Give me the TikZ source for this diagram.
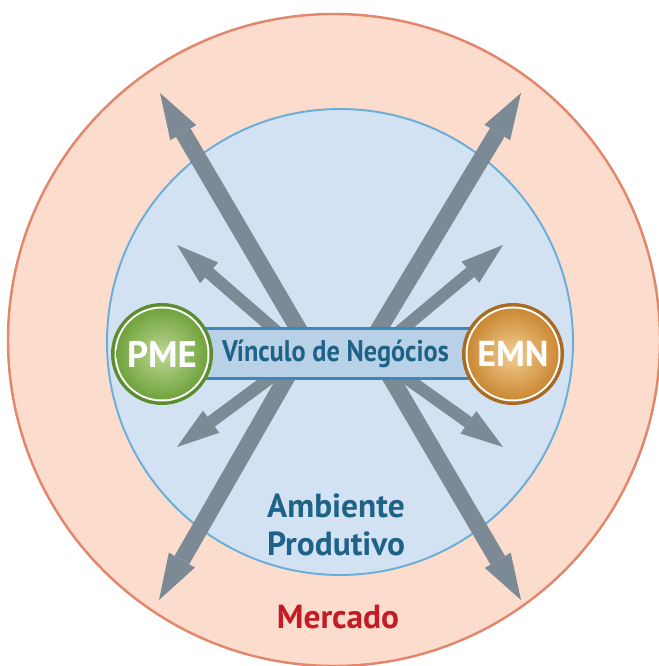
\documentclass[tikz,border=0pt]{standalone}
\usepackage{fontspec}
\setmainfont{PT Sans}
\newfontfamily\estreita[FakeStretch=0.88]{PT Sans}
\usepackage{xcolor}
\usetikzlibrary{arrows.meta,positioning,calc}

\definecolor{mercadofill}{HTML}{FCDCCD}
\definecolor{mercadoline}{HTML}{E0876D}
\definecolor{ambfill}{HTML}{D3E2F2}
\definecolor{ambline}{HTML}{6AAED8}
\definecolor{seta}{HTML}{7B8A94}
\definecolor{barfill}{HTML}{B9D1E7}
\definecolor{barline}{HTML}{3A87B9}
\definecolor{azultexto}{HTML}{1E6387}
\definecolor{vermelho}{HTML}{C21D26}
\definecolor{verdeescuro}{HTML}{5B8D2F}
\definecolor{verdeclaro}{HTML}{BCD793}
\definecolor{verdemeio}{HTML}{71A33D}
\definecolor{laranjaescuro}{HTML}{A86B20}
\definecolor{laranjaclaro}{HTML}{F2CD92}
\definecolor{laranjameio}{HTML}{CB8934}

\tikzset{
  setalonga/.style={seta, line width=9.6pt, -{Triangle[length=0.92cm, width=0.6cm, line width=0pt]}},
  setacurta/.style={seta, line width=7pt, -{Triangle[length=0.85cm, width=0.55cm, line width=0pt]}},
  rotulo/.style={font=\bfseries, text=azultexto}
}

\begin{document}
\begin{tikzpicture}

\useasboundingbox (0,0) rectangle (13.16,13.32);

% Mercado
\fill[mercadofill] (6.68,6.52) circle (6.52);
\draw[mercadoline, line width=1.4pt] (6.68,6.52) circle (6.52);

% Ambiente produtivo
\fill[ambfill] (6.8,6.48) circle (4.66);
\draw[ambline, line width=1.1pt] (6.8,6.48) circle (4.66);

% Arrow ends
\coordinate (ul) at (6.26,6.24);
\coordinate (ur) at (7.28,6.24);
\coordinate (ll) at (6.0,6.24);
\coordinate (lr) at (7.54,6.24);
\coordinate (sl) at (6.05,6.24);
\coordinate (sr) at (7.45,6.24);

\coordinate (tipUL) at (3.2,11.46);
\coordinate (tipUR) at (10.42,11.46);
\coordinate (tipLL) at (3.18,1.32);
\coordinate (tipLR) at (10.42,1.32);
\coordinate (tipSUL) at (3.54,8.42);
\coordinate (tipSUR) at (10.06,8.42);
\coordinate (tipSLL) at (3.54,4.38);
\coordinate (tipSLR) at (10.06,4.38);

% Arrows
\draw[setalonga] (ul) -- (tipUL);
\draw[setalonga] (ur) -- (tipUR);
\draw[setalonga] (ll) -- (tipLL);
\draw[setalonga] (lr) -- (tipLR);
\draw[setacurta] (sl) -- (tipSUL);
\draw[setacurta] (sr) -- (tipSUR);
\draw[setacurta] (sl) -- (tipSLL);
\draw[setacurta] (sr) -- (tipSLR);

% Bar
\draw[fill=barfill, draw=barline, line width=1.7pt] (4.1,5.75) rectangle (9.4,6.75);
\node[rotulo, font=\estreita\fontsize{17}{20}\selectfont\bfseries] (vinculo) at (6.71,6.24) {Vínculo de Negócios};

% PME
\fill[verdeescuro] (3.24,6.24) circle (1.02);
\fill[white] (3.24,6.24) circle (0.95);
\shade[inner color=verdeclaro, outer color=verdemeio] (3.24,6.24) circle (0.91);
\node[text=white, font=\fontsize{21}{24}\selectfont\bfseries] (pme) at (3.24,6.24) {PME};

% EMN
\fill[laranjaescuro] (10.26,6.24) circle (1.02);
\fill[white] (10.26,6.24) circle (0.95);
\shade[inner color=laranjaclaro, outer color=laranjameio] (10.26,6.24) circle (0.91);
\node[text=white, font=\fontsize{20.5}{24}\selectfont\bfseries] (emn) at (10.26,6.24) {EMN};

% Labels
\node[rotulo, align=center, font=\fontsize{19}{21.8}\selectfont\bfseries] (ambiente) at (6.72,2.82) {Ambiente\\Produtivo};
\node[font=\fontsize{19}{22}\selectfont\bfseries, text=vermelho] (mercado) at (6.76,0.97) {Mercado};

\end{tikzpicture}
\end{document}
